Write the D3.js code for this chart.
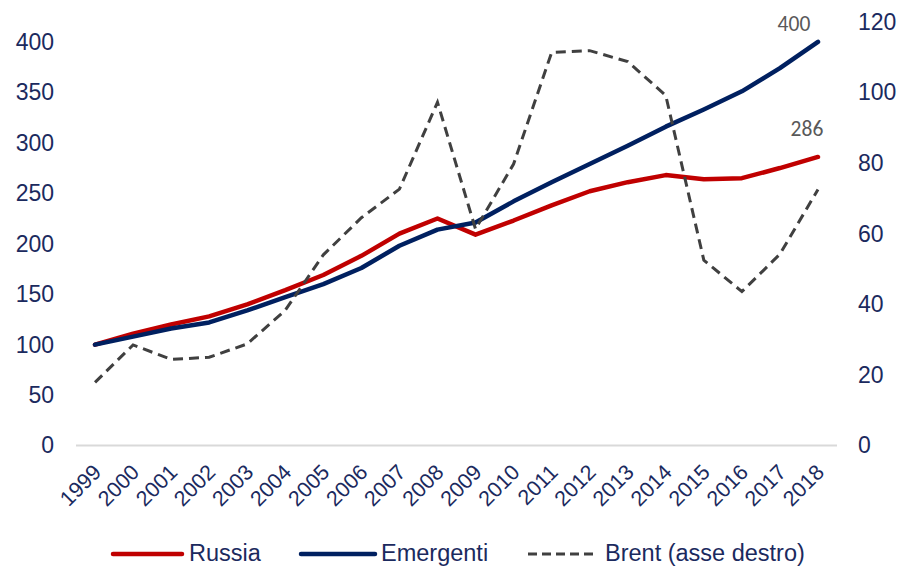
<!DOCTYPE html>
<html>
<head>
<meta charset="utf-8">
<script src="https://cdn.jsdelivr.net/npm/d3@7"></script>
<style>
  html, body { margin: 0; padding: 0; background: #fff; }
  svg { display: block; }
</style>
</head>
<body>
<svg id="chart" width="899" height="566"></svg>
<script>
// Years on the x axis
const years = ["1999","2000","2001","2002","2003","2004","2005","2006","2007","2008",
               "2009","2010","2011","2012","2013","2014","2015","2016","2017","2018"];

// Index, 1999 = 100 (left axis)
const russia = [100, 111, 120, 128, 140, 154, 169, 188, 210, 225,
                209, 223, 238, 252, 261, 268, 264, 265, 275, 286];
const emergenti = [100, 108, 116, 122, 134, 147, 160, 176, 198, 214,
                   221, 242, 261, 279, 297, 316, 333, 351, 374, 400];

// Brent price, USD per barrel (right axis)
const brent = [17.9, 28.5, 24.4, 25.0, 28.8, 38.3, 54.0, 64.5, 72.6, 97.2,
               61.3, 79.7, 111.3, 111.8, 108.7, 99.1, 52.5, 43.6, 54.2, 72.5];

const leftTicks = [0, 50, 100, 150, 200, 250, 300, 350, 400];
const rightTicks = [0, 20, 40, 60, 80, 100, 120];

const legendLabels = ["Russia", "Emergenti", "Brent (asse destro)"];

const svg = d3.select("#chart");
const axisColor = "#1b2a5e";
const plotLeft = 76, plotRight = 837, plotTop = 21.7, plotBottom = 445.6;

const x = d3.scalePoint().domain(years).range([plotLeft, plotRight]).padding(0.5);
const yL = d3.scaleLinear().domain([0, 420]).range([plotBottom, plotTop]);
const yR = d3.scaleLinear().domain([0, 120]).range([plotBottom, plotTop]);

// Baseline
svg.append("line")
  .attr("x1", plotLeft).attr("x2", plotRight)
  .attr("y1", plotBottom).attr("y2", plotBottom)
  .attr("stroke", "#d9d9d9").attr("stroke-width", 2);

// Left axis
const leftAxis = svg.append("g")
  .attr("transform", `translate(54,0)`)
  .call(d3.axisLeft(yL).tickValues(leftTicks).tickSize(0).tickPadding(0));
leftAxis.select(".domain").remove();
leftAxis.selectAll("text")
  .attr("fill", axisColor)
  .style("font-family", "'Liberation Sans', Arial, sans-serif")
  .style("font-size", "23px");

// Right axis
const rightAxis = svg.append("g")
  .attr("transform", `translate(858,0)`)
  .call(d3.axisRight(yR).tickValues(rightTicks).tickSize(0).tickPadding(0));
rightAxis.select(".domain").remove();
rightAxis.selectAll("text")
  .attr("fill", axisColor)
  .style("font-family", "'Liberation Sans', Arial, sans-serif")
  .style("font-size", "23px");

// Bottom axis with rotated year labels
const bottomAxis = svg.append("g")
  .attr("transform", `translate(0,${plotBottom})`)
  .call(d3.axisBottom(x).tickSize(0).tickPadding(0));
bottomAxis.select(".domain").remove();
bottomAxis.selectAll("text")
  .attr("fill", axisColor)
  .style("font-family", "'Liberation Sans', Arial, sans-serif")
  .style("font-size", "21.5px")
  .attr("text-anchor", "end")
  .attr("dy", 0)
  .attr("y", 0)
  .attr("transform", "translate(7,28) rotate(-45)");

// Series lines
const lineL = d3.line().x((d, i) => x(years[i])).y(d => yL(d));
const lineR = d3.line().x((d, i) => x(years[i])).y(d => yR(d));

svg.append("path").datum(russia)
  .attr("d", lineL).attr("fill", "none")
  .attr("stroke", "#c00000").attr("stroke-width", 4.5)
  .attr("stroke-linejoin", "round").attr("stroke-linecap", "round");

svg.append("path").datum(emergenti)
  .attr("d", lineL).attr("fill", "none")
  .attr("stroke", "#002060").attr("stroke-width", 4.5)
  .attr("stroke-linejoin", "round").attr("stroke-linecap", "round");

svg.append("path").datum(brent)
  .attr("d", lineR).attr("fill", "none")
  .attr("stroke", "#404040").attr("stroke-width", 3)
  .attr("stroke-dasharray", "10,6");

// End-value labels
const last = years.length - 1;
const labelFont = "Carlito, 'Open Sans', 'Liberation Sans', sans-serif";
svg.append("text")
  .attr("x", x(years[last]) - 24).attr("y", yL(emergenti[last]) - 11)
  .attr("text-anchor", "middle")
  .attr("fill", "#595959")
  .style("font-family", labelFont).style("font-size", "21.5px")
  .text(emergenti[last]);
svg.append("text")
  .attr("x", x(years[last]) - 11).attr("y", yL(russia[last]) - 21)
  .attr("text-anchor", "middle")
  .attr("fill", "#595959")
  .style("font-family", labelFont).style("font-size", "21.5px")
  .text(russia[last]);

// Legend
const legendItems = [
  { label: legendLabels[0], color: "#c00000", x1: 113, x2: 182, tx: 189, width: 4.5, dash: null },
  { label: legendLabels[1], color: "#002060", x1: 301, x2: 375, tx: 381, width: 4.5, dash: null },
  { label: legendLabels[2], color: "#404040", x1: 528, x2: 598, tx: 605, width: 3, dash: "9,5" }
];
const legend = svg.append("g");
legendItems.forEach(item => {
  const ln = legend.append("line")
    .attr("x1", item.x1).attr("x2", item.x2)
    .attr("y1", 554).attr("y2", 554)
    .attr("stroke", item.color).attr("stroke-width", item.width)
    .attr("stroke-linecap", item.dash ? "butt" : "round");
  if (item.dash) ln.attr("stroke-dasharray", item.dash);
  legend.append("text")
    .attr("x", item.tx).attr("y", 560.5)
    .attr("fill", axisColor)
    .style("font-family", "'Liberation Sans', Arial, sans-serif")
    .style("font-size", "23.5px")
    .text(item.label);
});
</script>
</body>
</html>
